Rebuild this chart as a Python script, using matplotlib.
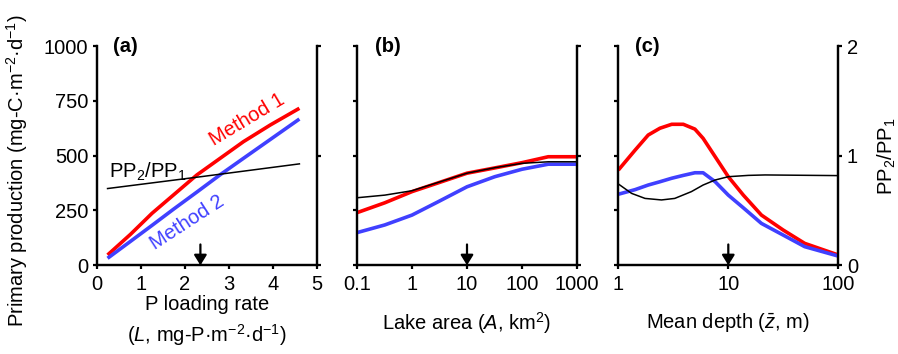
import matplotlib
matplotlib.use("Agg")
import matplotlib.pyplot as plt
from matplotlib.ticker import NullLocator

plt.rcParams['font.family'] = ['Liberation Sans', 'DejaVu Sans']
plt.rcParams['mathtext.fontset'] = 'custom'
plt.rcParams['mathtext.rm'] = 'Liberation Sans'
plt.rcParams['mathtext.it'] = 'Liberation Sans:italic'
plt.rcParams['mathtext.bf'] = 'Liberation Sans:bold'
plt.rcParams['font.size'] = 14.5

# ---- data ----
# (a) P loading rate
load_x = [0.24, 0.76, 1.25, 1.74, 2.27, 2.8, 3.33, 3.94, 4.6]
load_pp1 = [47, 141, 237, 321, 412, 488, 564, 640, 716]
load_pp2 = [32, 109, 182, 256, 334, 413, 488, 574, 667]
load_ratio_x = [0.24, 2.4, 4.6]
load_ratio = [0.70, 0.81, 0.925]

# (b) lake area
area_x = [0.1, 0.32, 1, 3, 10, 32, 100, 300, 1000]
area_pp1 = [240, 285, 336, 376, 420, 444, 468, 495, 495]
area_pp2 = [149, 184, 229, 290, 358, 404, 438, 461, 461]
area_ratio = [0.616, 0.64, 0.68, 0.756, 0.84, 0.89, 0.93, 0.944, 0.944]

# (c) mean depth
depth_x = [1, 1.42, 1.87, 2.39, 3.06, 3.9, 4.97, 5.9, 7.6, 10, 13.7, 20, 31.5, 49.5, 100]
depth_pp1 = [434, 525, 594, 625, 643, 643, 621, 579, 495, 404, 320, 229, 161, 100, 47]
depth_pp2 = [324, 345, 366, 381, 397, 410, 422, 422, 381, 320, 262, 191, 138, 85, 42]
depth_ratio_x = [1, 1.32, 1.75, 2.47, 3.26, 4.62, 5.9, 7.6, 10, 15.2, 21.6, 100]
depth_ratio = [0.742, 0.656, 0.61, 0.596, 0.61, 0.672, 0.732, 0.778, 0.808, 0.82, 0.824, 0.818]

pp_ticks = [0, 250, 500, 750, 1000]
ratio_ticks = [0, 1, 2]
arrow_x = [2.35, 10, 10]
panel_labels = ['(a)', '(b)', '(c)']

RED = '#ff0000'
BLUE = '#4040ff'

fig = plt.figure(figsize=(8.98, 3.54), dpi=100)
W, H = 898, 354
lefts = [97, 357, 618.3]
bottom = 1 - 265.3 / H
height = 219.3 / H
width = 220 / W

datasets = [
    (load_x, load_pp1, load_pp2, load_ratio_x, load_ratio),
    (area_x, area_pp1, area_pp2, area_x, area_ratio),
    (depth_x, depth_pp1, depth_pp2, depth_ratio_x, depth_ratio),
]

for i, (l, (xx, p1, p2, rx, rr)) in enumerate(zip(lefts, datasets)):
    ax = fig.add_axes([l / W, bottom, width, height])
    tw = ax.twinx()
    ax.plot(xx, p1, color=RED, lw=2.6, solid_capstyle='butt', zorder=3)
    ax.plot(xx, p2, color=BLUE, lw=2.6, solid_capstyle='butt', zorder=3)
    tw.plot(rx, rr, color='black', lw=1.1, zorder=4)

    ax.set_ylim(0, 1000)
    tw.set_ylim(0, 2)
    ax.set_yticks(pp_ticks)
    tw.set_yticks(ratio_ticks)
    if i != 0:
        ax.set_yticklabels([])
    if i != 2:
        tw.set_yticklabels([])

    if i == 0:
        ax.set_xlim(0, 5)
        ax.set_xticks([0, 1, 2, 3, 4, 5])
    elif i == 1:
        ax.set_xscale('log')
        ax.set_xlim(0.1, 1000)
        ax.set_xticks([0.1, 1, 10, 100, 1000])
        ax.set_xticklabels(['0.1', '1', '10', '100', '1000'])
    else:
        ax.set_xscale('log')
        ax.set_xlim(1, 100)
        ax.set_xticks([1, 10, 100])
        ax.set_xticklabels(['1', '10', '100'])
    ax.xaxis.set_minor_locator(NullLocator())

    for a in (ax, tw):
        a.spines['top'].set_visible(False)
        for s in ('left', 'right', 'bottom'):
            a.spines[s].set_linewidth(1.6)
        a.tick_params(direction='out', length=3.2, width=1.6, pad=3.0)
    ax.tick_params(axis='x', pad=3.8)
    tw.patch.set_visible(False)

    ax.annotate('', xy=(arrow_x[i], 0), xytext=(0, 15), textcoords='offset points',
                xycoords='data',
                arrowprops=dict(arrowstyle='-|>,head_length=0.42,head_width=0.26',
                                color='black', lw=1.6, shrinkA=0, shrinkB=0),
                zorder=5)

    ax.text([0.073, 0.082, 0.076][i], 1.0, panel_labels[i], transform=ax.transAxes,
            ha='left', va='center', fontweight='bold')

axes = fig.axes
ax_a = axes[0]
ax_b = axes[2]
ax_c = axes[4]

ax_a.text(3.41, 663, 'Method 1', color=RED, rotation=31, ha='center', va='center',
          rotation_mode='anchor')
ax_a.text(2.05, 197, 'Method 2', color=BLUE, rotation=33, ha='center', va='center',
          rotation_mode='anchor')
ax_a.text(0.27, 400, 'PP$_2$/PP$_1$', color='black', ha='left', va='baseline')

ax_a.text(0.5, -0.1765, 'P loading rate', transform=ax_a.transAxes, ha='center', va='center')
ax_a.text(0.5, -0.318, r'($L$, mg-P·m$^{-2}$·d$^{-1}$)', transform=ax_a.transAxes,
          ha='center', va='center')
ax_b.text(0.5, -0.263, r'Lake area ($A$, km$^{2}$)', transform=ax_b.transAxes,
          ha='center', va='center')
ax_c.text(0.5, -0.263, r'Mean depth ($\bar{z}$, m)', transform=ax_c.transAxes,
          ha='center', va='center')

fig.text(17 / W, 1 - 171 / H, r'Primary production (mg-C·m$^{-2}$·d$^{-1}$)',
         rotation=90, ha='center', va='center')
fig.text(887 / W, 1 - 156 / H, 'PP$_2$/PP$_1$', rotation=90, ha='center', va='center')

fig.savefig('out.png', dpi=100)
